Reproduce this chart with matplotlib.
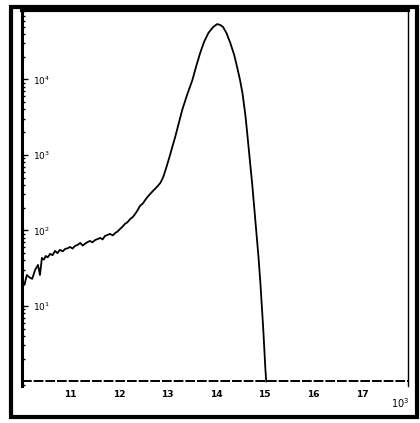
import matplotlib
matplotlib.use("Agg")
import matplotlib.pyplot as plt
from matplotlib.patches import Rectangle

# spectrum (x in units of the axis, y counts on log scale)
x_vals = [10.00, 10.05, 10.10, 10.15, 10.21, 10.27, 10.33, 10.37, 10.41, 10.45,
          10.49, 10.53, 10.58, 10.63, 10.68, 10.73, 10.78, 10.84, 10.89, 10.94,
          10.99, 11.04, 11.09, 11.14, 11.20, 11.25, 11.30, 11.35, 11.40, 11.45,
          11.51, 11.56, 11.61, 11.66, 11.71, 11.76, 11.81, 11.87, 11.92, 11.97,
          12.02, 12.07, 12.12, 12.17, 12.23, 12.28, 12.33, 12.38, 12.43, 12.49,
          12.54, 12.59, 12.64, 12.69, 12.74, 12.80, 12.85, 12.91, 12.97, 13.05,
          13.09, 13.15, 13.22, 13.30, 13.40, 13.51, 13.59, 13.67, 13.75, 13.84,
          13.94, 14.02, 14.08, 14.14, 14.21, 14.29, 14.37, 14.43, 14.49, 14.54,
          14.60, 14.64, 14.70, 14.74, 14.80, 14.87, 14.91, 14.97, 15.01, 15.03]
y_vals = [22.1, 19.0, 25.7, 24.0, 22.8, 30.0, 34.9, 25.7, 43.2, 41.0,
          45.9, 44.0, 48.9, 47.0, 53.5, 50.0, 55.2, 53.0, 56.9, 58.0,
          60.4, 57.5, 62.3, 64.0, 68.3, 63.0, 66.7, 70.0, 72.6, 69.5,
          74.9, 77.0, 79.6, 76.0, 84.6, 87.0, 89.9, 86.0, 92.5, 97.0,
          104.7, 112.0, 122.0, 128.0, 142.0, 150.0, 165.0, 185.0, 211.0, 228.0,
          254.0, 280.0, 304.0, 330.0, 355.0, 390.0, 426.0, 511.0, 673.0, 1000.0,
          1240.0, 1679.0, 2500.0, 3944.0, 6240.0, 9840.0, 15100.0, 22400.0, 31400.0, 41300.0,
          49600.0, 54000.0, 52700.0, 49600.0, 41300.0, 30400.0, 21100.0, 14600.0, 9840.0, 6620.0,
          3390.0, 1900.0, 760.0, 420.0, 150.0, 45.0, 20.0, 4.8, 1.56, 1.0]

floor_level = 1.0
x_ticks = [11, 12, 13, 14, 15, 16, 17]
x_tick_labels = ["11", "12", "13", "14", "15", "16", "17"]
y_ticks = [10, 100, 1000, 10000]
y_tick_labels = ["$10^1$", "$10^2$", "$10^3$", "$10^4$"]

fig = plt.figure(figsize=(4.2, 4.23), dpi=100)
ax = fig.add_axes([22 / 420, 1 - 386 / 423, (408 - 22) / 420, (386 - 10) / 423])

ax.plot(x_vals, y_vals, color="black", linewidth=1.3)
ax.axhline(floor_level, color="black", linewidth=1.4, linestyle=(0, (5, 1)))

ax.set_yscale("log")
ax.set_xlim(10, 17.95)
ax.set_ylim(0.87, 83000)

ax.set_xticks(x_ticks)
ax.set_xticklabels(x_tick_labels, fontsize=6.5, fontweight="bold")
ax.tick_params(axis="x", length=0, pad=3)

ax.set_yticks(y_ticks)
ax.set_yticklabels(y_tick_labels, fontsize=6.5, fontweight="bold")
ax.tick_params(axis="y", which="major", direction="in", length=4, width=1, pad=-8)
ax.tick_params(axis="y", which="minor", direction="in", length=2, width=1)
for lab in ax.get_yticklabels():
    lab.set_horizontalalignment("left")

ax.text(0.98, -0.045, "$10^3$", transform=ax.transAxes, fontsize=7,
        fontweight="bold", ha="center", va="center")

ax.spines["bottom"].set_visible(False)
ax.spines["left"].set_linewidth(2.2)
ax.spines["top"].set_linewidth(3)
ax.spines["right"].set_linewidth(1)

# heavy outer frame of the scanned figure
fig.patches.append(Rectangle((11 / 420, 6 / 423), 406 / 420, 410 / 423,
                             transform=fig.transFigure, fill=False,
                             edgecolor="black", linewidth=3))

fig.savefig("out.png", dpi=100)
